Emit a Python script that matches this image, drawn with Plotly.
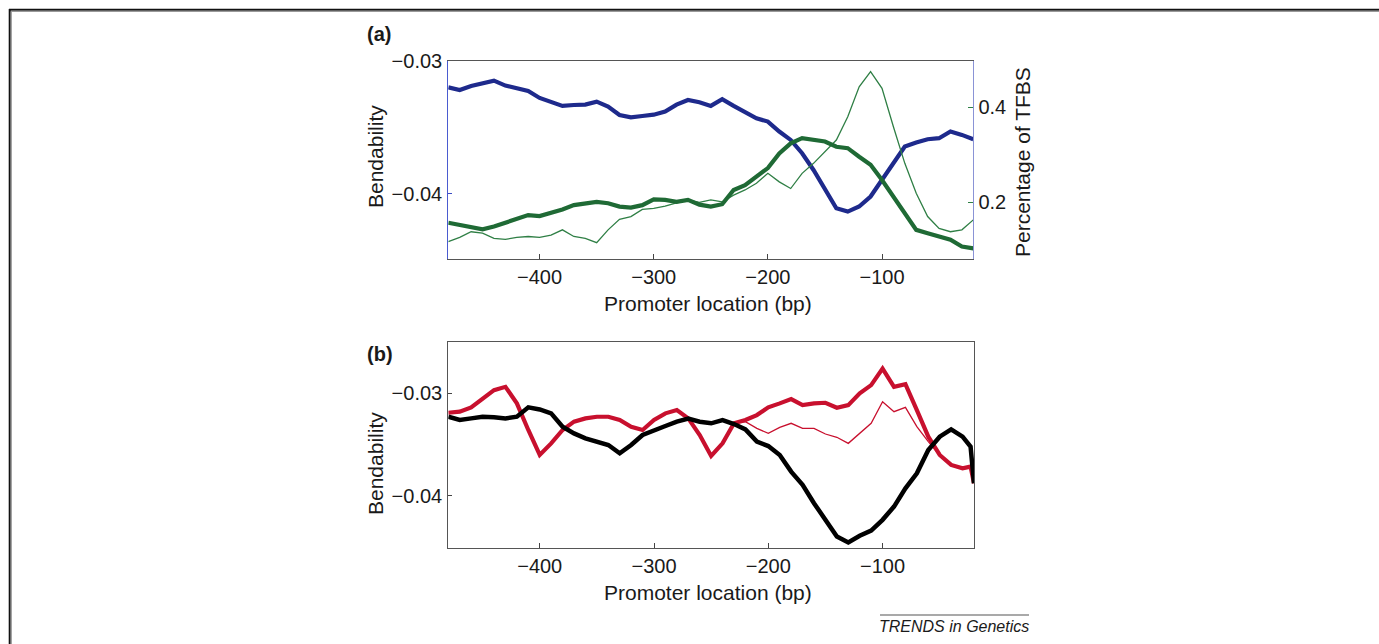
import plotly.graph_objects as go

# ---------------- data ----------------
positions = list(range(-480, -19, 10))  # promoter location (bp)

# Panel (a): bendability (left axis) and percentage of TFBS (right axis)
bend_a = [-0.03198, -0.03218, -0.03188, -0.03168, -0.03148, -0.03185, -0.03203, -0.03226,
          -0.03278, -0.03306, -0.03338, -0.03331, -0.03328, -0.03306, -0.03343, -0.03406,
          -0.03424, -0.03414, -0.03404, -0.03381, -0.03328, -0.03293, -0.03310, -0.03338,
          -0.03288, -0.03338, -0.03381, -0.03431, -0.03456, -0.03531, -0.03594, -0.03694,
          -0.03820, -0.03970, -0.04108, -0.04133, -0.04095, -0.04020, -0.03895, -0.03769,
          -0.03644, -0.03614, -0.03589, -0.03581, -0.03531, -0.03556, -0.03589]
tfbs_thick = [0.157, 0.152, 0.149, 0.143, 0.149, 0.157, 0.166, 0.173, 0.171, 0.177, 0.185,
              0.194, 0.198, 0.201, 0.198, 0.191, 0.189, 0.194, 0.206, 0.205, 0.201, 0.205,
              0.195, 0.191, 0.196, 0.226, 0.236, 0.254, 0.272, 0.303, 0.324, 0.335, 0.331,
              0.328, 0.317, 0.314, 0.296, 0.279, 0.247, 0.212, 0.177, 0.142, 0.135, 0.128,
              0.121, 0.107, 0.103]
tfbs_thin = [0.117, 0.126, 0.138, 0.135, 0.124, 0.122, 0.126, 0.128, 0.126, 0.131, 0.142,
             0.128, 0.124, 0.115, 0.142, 0.164, 0.170, 0.185, 0.187, 0.192, 0.199, 0.205,
             0.200, 0.205, 0.201, 0.215, 0.226, 0.240, 0.261, 0.243, 0.229, 0.261, 0.282,
             0.307, 0.331, 0.380, 0.443, 0.475, 0.440, 0.359, 0.282, 0.219, 0.170, 0.145,
             0.138, 0.142, 0.163]

# Panel (b): bendability
positions_b = positions[:-1] + [-23, -20]
red_thick = [-0.03191, -0.03181, -0.03139, -0.03052, -0.02971, -0.02939, -0.03100, -0.03359,
             -0.03602, -0.03489, -0.03359, -0.03278, -0.03246, -0.03230, -0.03230, -0.03262,
             -0.03327, -0.03359, -0.03262, -0.03197, -0.03165, -0.03246, -0.03408, -0.03612,
             -0.03489, -0.03294, -0.03262, -0.03214, -0.03139, -0.03100, -0.03058, -0.03117,
             -0.03100, -0.03094, -0.03142, -0.03117, -0.03003, -0.02922, -0.02761, -0.02939,
             -0.02913, -0.03165, -0.03424, -0.03602, -0.03699, -0.03731, -0.03715, -0.03877]
black_thick = [-0.03230, -0.03262, -0.03246, -0.03230, -0.03236, -0.03246, -0.03230, -0.03139,
               -0.03159, -0.03197, -0.03327, -0.03392, -0.03440, -0.03472, -0.03505, -0.03586,
               -0.03505, -0.03408, -0.03359, -0.03320, -0.03278, -0.03249, -0.03278, -0.03294,
               -0.03262, -0.03301, -0.03353, -0.03472, -0.03515, -0.03602, -0.03764, -0.03893,
               -0.04071, -0.04233, -0.04395, -0.04453, -0.04388, -0.04337, -0.04233, -0.04104,
               -0.03926, -0.03780, -0.03553, -0.03424, -0.03353, -0.03424, -0.03521, -0.03877]
positions_thin_red = list(range(-230, -49, 10))
red_thin = [-0.03294, -0.03278, -0.03343, -0.03392, -0.03333, -0.03294, -0.03343, -0.03343,
            -0.03398, -0.03430, -0.03489, -0.03392, -0.03294, -0.03084, -0.03181, -0.03139,
            -0.03327, -0.03472, -0.03602]

x_ticks = [-400, -300, -200, -100]
bend_ticks_a = [-0.04, -0.03]
tfbs_ticks = [0.2, 0.4]
bend_ticks_b = [-0.04, -0.03]

# ---------------- layout helpers ----------------
W, H = 1379, 644
def fx(p):
    return p / W
def fy(p):
    return 1 - p / H

BLUE = "#1e2a8c"
GREEN = "#1f6a35"
GREEN_THIN = "#2f7f45"
RED = "#c8102e"
FONT = "Liberation Sans, Arial, Helvetica, sans-serif"
TXT = "#1a1a1a"

fig = go.Figure()

fig.add_trace(go.Scatter(x=positions, y=tfbs_thin, mode="lines", xaxis="x", yaxis="y2",
                         line=dict(color=GREEN_THIN, width=1.3), hoverinfo="skip"))
fig.add_trace(go.Scatter(x=positions, y=tfbs_thick, mode="lines", xaxis="x", yaxis="y2",
                         line=dict(color=GREEN, width=4.2), hoverinfo="skip"))
fig.add_trace(go.Scatter(x=positions, y=bend_a, mode="lines", xaxis="x", yaxis="y",
                         line=dict(color=BLUE, width=4.2), hoverinfo="skip"))

fig.add_trace(go.Scatter(x=positions_thin_red, y=red_thin, mode="lines", xaxis="x2", yaxis="y3",
                         line=dict(color=RED, width=1.3), hoverinfo="skip"))
fig.add_trace(go.Scatter(x=positions_b, y=red_thick, mode="lines", xaxis="x2", yaxis="y3",
                         line=dict(color=RED, width=4.2), hoverinfo="skip"))
fig.add_trace(go.Scatter(x=positions_b, y=black_thick, mode="lines", xaxis="x2", yaxis="y3",
                         line=dict(color="#000000", width=4.5), hoverinfo="skip"))

tickfont = dict(family=FONT, size=20, color=TXT)
common = dict(showgrid=False, zeroline=False, tickfont=tickfont, automargin=False,
              showline=True, linewidth=1.2)

fig.update_layout(
    template="none",
    width=W, height=H,
    margin=dict(l=0, r=0, t=0, b=0, pad=0, autoexpand=False),
    paper_bgcolor="white", plot_bgcolor="white",
    showlegend=False,
    font=dict(family=FONT, size=20, color=TXT),
    xaxis=dict(domain=[fx(448.3), fx(973.3)], anchor="y", range=[-480, -20],
               tickvals=x_ticks, ticks="inside", ticklen=5, tickcolor="#444",
               linecolor="#555", mirror=True, ticklabelstandoff=0, **common),
    yaxis=dict(domain=[fy(259), fy(61)], anchor="x", range=[-0.0449, -0.03],
               tickvals=bend_ticks_a, ticks="inside", ticklen=4, tickcolor="#3a4cc4",
               linecolor="#4a5bd0", ticklabelstandoff=1, **common),
    yaxis2=dict(overlaying="y", side="right", anchor="x", range=[0.0806, 0.4975],
                tickvals=tfbs_ticks, ticks="inside", ticklen=5, tickcolor=GREEN_THIN,
                linecolor="#8a93d6", ticklabelstandoff=0, **common),
    xaxis2=dict(domain=[fx(448.3), fx(974)], anchor="y3", range=[-480, -20],
                tickvals=x_ticks, ticks="inside", ticklen=5, tickcolor="#444",
                linecolor="#555", mirror=True, ticklabelstandoff=0, **common),
    yaxis3=dict(domain=[fy(548.3), fy(341.7)], anchor="x2", range=[-0.0451, -0.025],
                tickvals=bend_ticks_b, ticks="inside", ticklen=4, tickcolor="#444",
                linecolor="#555", mirror=True, ticklabelstandoff=1, **common),
)

def label(text, x, y, size=21, angle=0, bold=False, italic=False, xanchor="center"):
    t = text
    if bold:
        t = "<b>" + t + "</b>"
    if italic:
        t = "<i>" + t + "</i>"
    fig.add_annotation(text=t, x=fx(x), y=fy(y), xref="paper", yref="paper",
                       showarrow=False, textangle=angle, xanchor=xanchor, yanchor="middle",
                       font=dict(family=FONT, size=size, color=TXT))

label("(a)", 365, 34, size=20, bold=True, xanchor="left")
label("(b)", 365, 354, size=20, bold=True, xanchor="left")
label("Bendability", 375, 157, angle=-90)
label("Bendability", 375, 464, angle=-90)
label("Percentage of TFBS", 1023, 162, angle=-90)
label("Promoter location (bp)", 708, 303)
label("Promoter location (bp)", 708, 592)
label("TRENDS in Genetics", 954, 626, size=16, italic=True)

# overline above the journal label
fig.add_shape(type="line", xref="paper", yref="paper", x0=fx(880), x1=fx(1029),
              y0=fy(615), y1=fy(615), line=dict(color="#555", width=1.2))
# outer frame (top and left edges)
fig.add_shape(type="line", xref="paper", yref="paper", x0=fx(9), x1=1, y0=fy(9.7), y1=fy(9.7),
              line=dict(color="#111", width=2))
fig.add_shape(type="line", xref="paper", yref="paper", x0=fx(9), x1=1, y0=fy(11.3), y1=fy(11.3),
              line=dict(color="#9a9a9a", width=1.2))
fig.add_shape(type="line", xref="paper", yref="paper", x0=fx(9.7), x1=fx(9.7), y0=0, y1=fy(9),
              line=dict(color="#111", width=2))
fig.add_shape(type="line", xref="paper", yref="paper", x0=fx(11.3), x1=fx(11.3), y0=0, y1=fy(11),
              line=dict(color="#9a9a9a", width=1.2))

fig.write_html("out.html", config={"displayModeBar": False},
               post_script="document.body.style.margin='0';document.body.style.overflow='hidden';")
